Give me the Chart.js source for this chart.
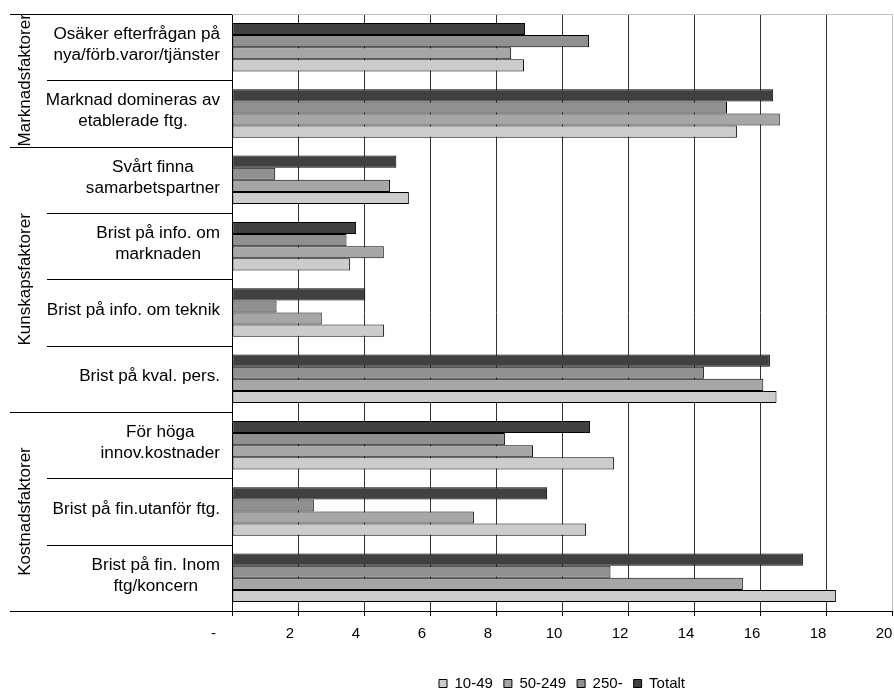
<!DOCTYPE html>
<html>
<head>
<meta charset="utf-8">
<script src="https://cdn.jsdelivr.net/npm/chart.js@4.4.0/dist/chart.umd.min.js"></script>
<style>
    html, body { margin: 0; padding: 0; background: #fff; }
</style>
</head>
<body>
<canvas id="graficoHinder" width="894" height="691"></canvas>
<script>
const kategorier = [
    ['Osäker efterfrågan på', 'nya/förb.varor/tjänster'],
    ['Marknad domineras av', 'etablerade ftg.'],
    ['Svårt finna', 'samarbetspartner'],
    ['Brist på info. om', 'marknaden'],
    ['Brist på info. om teknik'],
    ['Brist på kval. pers.'],
    ['För höga', 'innov.kostnader'],
    ['Brist på fin.utanför ftg.'],
    ['Brist på fin. Inom', 'ftg/koncern']
];
const grupper = ['Marknadsfaktorer', 'Kunskapsfaktorer', 'Kostnadsfaktorer'];
const gruppStorlek = [2, 4, 3];

const v10_49  = [8.85, 15.3, 5.36, 3.58, 4.61, 16.5, 11.58, 10.73, 18.3];
const v50_249 = [8.46, 16.6, 4.79, 4.60, 2.72, 16.1, 9.12, 7.33, 15.48];
const v250    = [10.82, 15.0, 1.31, 3.47, 1.35, 14.3, 8.27, 2.48, 11.47];
const totalt  = [8.88, 16.4, 4.98, 3.76, 4.04, 16.3, 10.85, 9.55, 17.3];

const xTicks = [0, 2, 4, 6, 8, 10, 12, 14, 16, 18, 20];

const FONT = "'Liberation Sans', Arial, sans-serif";
Chart.defaults.font.family = FONT;
Chart.defaults.color = '#000';

// etiketterna i originalet ar lite utdragna pa bredden
const STRACK = 1.07;

const kategoriAxel = {
    id: 'kategoriAxel',
    beforeDatasetsDraw(chart) {
        const { ctx, chartArea: a } = chart;
        ctx.save();
        ctx.strokeStyle = '#c0c0c0';
        ctx.lineWidth = 1;
        ctx.beginPath();
        ctx.moveTo(a.left, Math.round(a.top) + 0.5);
        ctx.lineTo(a.right, Math.round(a.top) + 0.5);
        ctx.stroke();
        ctx.restore();
    },
    afterDraw(chart) {
        const { ctx, chartArea: a, scales: { y } } = chart;
        const steg = y.getPixelForValue(1) - y.getPixelForValue(0);
        const linje = (x1, yy, x2) => {
            const py = Math.round(yy) + 0.5;
            ctx.beginPath();
            ctx.moveTo(x1, py);
            ctx.lineTo(x2, py);
            ctx.stroke();
        };

        ctx.save();
        ctx.fillStyle = '#000';
        ctx.strokeStyle = '#000';
        ctx.lineWidth = 1;
        ctx.font = '16px ' + FONT;
        ctx.textAlign = 'center';
        ctx.textBaseline = 'middle';

        const hoger = a.left - 12;
        kategorier.forEach((rader, i) => {
            const mitt = y.getPixelForValue(i);
            const bredd = Math.max(...rader.map(r => ctx.measureText(r).width)) * STRACK;
            const cx = hoger - bredd / 2;
            rader.forEach((r, j) => {
                ctx.save();
                ctx.translate(cx, mitt - 2 + (j - (rader.length - 1) / 2) * 21);
                ctx.scale(STRACK, 1);
                ctx.fillText(r, 0, 0);
                ctx.restore();
            });
        });

        let start = 0;
        gruppStorlek.forEach((n, g) => {
            const topp = y.getPixelForValue(start) - steg / 2;
            const botten = y.getPixelForValue(start + n - 1) + steg / 2;
            linje(10, topp, a.left);
            for (let k = 1; k < n; k++) {
                linje(47, y.getPixelForValue(start + k) - steg / 2, a.left);
            }
            if (g === gruppStorlek.length - 1) {
                linje(10, botten, a.left);
            }
            ctx.save();
            ctx.translate(25, (topp + botten) / 2);
            ctx.rotate(-Math.PI / 2);
            ctx.font = '17px ' + FONT;
            ctx.fillText(grupper[g], 0, 0);
            ctx.restore();
            start += n;
        });
        ctx.restore();
    }
};

const stapel = (label, data, farg) => ({
    label: label,
    data: data,
    backgroundColor: farg,
    borderColor: '#000',
    borderWidth: 1,
    borderSkipped: false,
    categoryPercentage: 0.73,
    barPercentage: 1
});

new Chart(document.getElementById('graficoHinder'), {
    type: 'bar',
    data: {
        labels: kategorier,
        datasets: [
            stapel('Totalt', totalt, '#404040'),
            stapel('250-', v250, '#909090'),
            stapel('50-249', v50_249, '#a6a6a6'),
            stapel('10-49', v10_49, '#cccccc')
        ]
    },
    options: {
        responsive: false,
        animation: false,
        indexAxis: 'y',
        layout: { padding: { top: 14, right: 2, bottom: -10, left: 0 } },
        scales: {
            x: {
                min: xTicks[0],
                max: xTicks[xTicks.length - 1],
                afterBuildTicks(s) { s.ticks = xTicks.map(v => ({ value: v })); },
                ticks: {
                    callback: v => (v === 0 ? '-\u00a0\u00a0\u00a0\u00a0\u00a0' : v),
                    color: '#000',
                    font: { size: 15 },
                    padding: 9,
                    labelOffset: -8,
                    maxRotation: 0,
                    autoSkip: false
                },
                grid: {
                    color: c => (c.tick && c.tick.value === 20 ? '#c0c0c0' : '#333'),
                    tickColor: '#000',
                    tickLength: 5
                },
                border: { color: '#000' },
                afterFit(s) {
                    s.paddingLeft = 0;
                    s.paddingRight = 0;
                    s.height = 54;
                }
            },
            y: {
                ticks: { display: false },
                grid: { drawOnChartArea: false, drawTicks: false },
                border: { color: '#000' },
                afterFit(s) { s.width = 232; }
            }
        },
        plugins: {
            legend: {
                position: 'bottom',
                fullSize: false,
                reverse: true,
                labels: {
                    boxWidth: 8,
                    boxHeight: 8,
                    color: '#000',
                    font: { size: 15 },
                    padding: 11
                }
            },
            tooltip: { enabled: false }
        }
    },
    plugins: [kategoriAxel]
});
</script>
</body>
</html>
